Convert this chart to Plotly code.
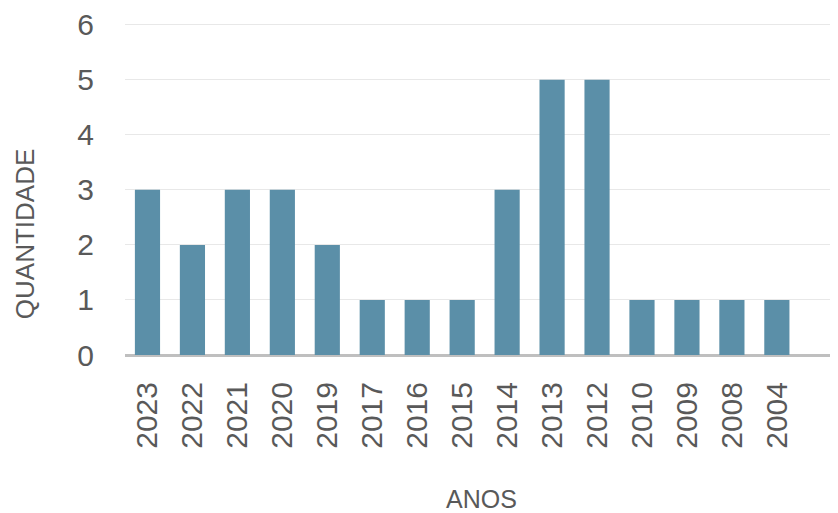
import plotly.graph_objects as go

anos = ["2023", "2022", "2021", "2020", "2019", "2017", "2016", "2015",
        "2014", "2013", "2012", "2010", "2009", "2008", "2004"]
quantidade = [3, 2, 3, 3, 2, 1, 1, 1, 3, 5, 5, 1, 1, 1, 1]

fig = go.Figure(go.Bar(x=anos, y=quantidade, marker=dict(color="#5b8fa8", line=dict(width=0))))

font_color = "#595959"
fig.update_layout(
    width=838, height=513,
    margin=dict(l=117, r=8, t=15, b=166),
    plot_bgcolor="white", paper_bgcolor="white",
    bargap=0.44,
    showlegend=False,
    font=dict(family="Liberation Sans, Arial, sans-serif", color=font_color),
    annotations=[
        dict(text="QUANTIDADE", xref="paper", yref="paper", x=-0.140, y=0.3645,
             xanchor="center", yanchor="middle", textangle=-90, showarrow=False,
             font=dict(size=26, color=font_color)),
        dict(text="ANOS", xref="paper", yref="paper", x=0.5, y=-0.4337,
             xanchor="center", yanchor="middle", showarrow=False,
             font=dict(size=25, color=font_color)),
    ],
)
fig.update_xaxes(
    type="category", range=[-0.5, 15.36], automargin=False,
    tickangle=-90, tickfont=dict(size=30, color=font_color),
    ticklabelstandoff=20,
    showgrid=False, showline=False, ticks="",
)
fig.update_yaxes(
    range=[0, 6.03], dtick=1, automargin=False,
    tickfont=dict(size=30, color=font_color),
    ticklabelstandoff=30,
    showgrid=True, gridcolor="#e8e8e8", gridwidth=1,
    zeroline=True, zerolinecolor="#bfbfbf", zerolinewidth=3,
    showline=False, ticks="",
)
fig.write_html("out.html")
